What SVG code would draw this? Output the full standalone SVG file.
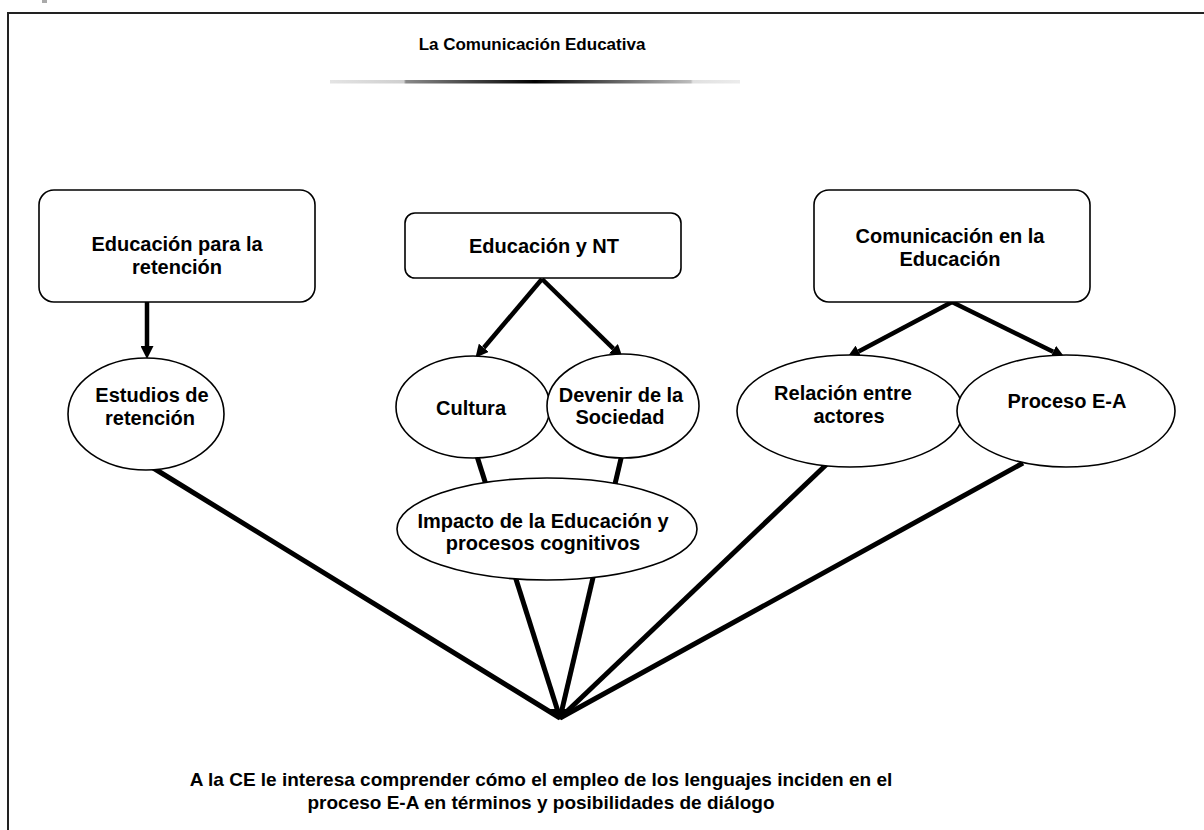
<svg xmlns="http://www.w3.org/2000/svg" width="1204" height="830" viewBox="0 0 1204 830">
<defs>
<style>
.t{font-family:"Liberation Sans",Arial,sans-serif;font-weight:bold;font-size:20px;fill:#000;text-anchor:middle}
.title{font-size:17px}
.foot{font-size:19px}
.box{fill:#fff;stroke:#000;stroke-width:1.6}
.ell{fill:#fff;stroke:#000;stroke-width:1.6}
.arr{fill:none;stroke:#000;stroke-width:4.5;marker-end:url(#ah)}
.ln{fill:none;stroke:#000;stroke-width:5}
</style>
<marker id="ah" viewBox="0 0 12 12" markerWidth="13" markerHeight="13" markerUnits="userSpaceOnUse" refX="0" refY="6" orient="auto">
<path d="M0,0 L12,6 L0,12 z" fill="#000"/>
</marker>
<linearGradient id="bar" x1="330" y1="0" x2="740" y2="0" gradientUnits="userSpaceOnUse">
<stop offset="0" stop-color="#e4e4e4"/>
<stop offset="0.18" stop-color="#cfcfcf"/>
<stop offset="0.185" stop-color="#8a8a8a"/>
<stop offset="0.5" stop-color="#000"/>
<stop offset="0.88" stop-color="#bdbdbd"/>
<stop offset="0.885" stop-color="#e0e0e0"/>
<stop offset="1" stop-color="#ececec"/>
</linearGradient>
</defs>
<rect width="1204" height="830" fill="#fff"/>
<rect x="42" y="0" width="5" height="3" fill="#aaa"/>
<path d="M8,830 V13 H1204" fill="none" stroke="#222" stroke-width="2"/>

<g id="title">
<text class="t title" x="532" y="50">La Comunicación Educativa</text>
<rect x="330" y="80" width="410" height="3.5" fill="url(#bar)"/>
</g>

<g id="connectors">
<path class="ln" d="M150,466 L560,718"/>
<path class="ln" d="M475,450 L560,718"/>
<path class="ln" d="M623,450 L560,718"/>
<path class="ln" d="M828,463 L560,718"/>
<path class="ln" d="M1023,463 L560,718"/>
<polygon points="549,709 571,709 560,720" fill="#000"/>
<path class="arr" d="M147,302 L147,346"/>
<path class="arr" d="M542,279 L483.8,347.8"/>
<path class="arr" d="M542,279 L613.4,348.6"/>
<path class="arr" d="M952,302 L858.6,351.4"/>
<path class="arr" d="M952,302 L1053.2,351.7"/>
</g>

<g id="n-edu-retencion">
<rect class="box" x="39" y="190" width="276" height="112" rx="15"/>
<text class="t" x="177" y="251">Educación para la</text>
<text class="t" x="177" y="274">retención</text>
</g>

<g id="n-edu-nt">
<rect class="box" x="405" y="213" width="276" height="65" rx="10"/>
<text class="t" x="544" y="253">Educación y NT</text>
</g>

<g id="n-com-edu">
<rect class="box" x="814" y="190" width="276" height="112" rx="15"/>
<text class="t" x="950" y="243">Comunicación en la</text>
<text class="t" x="950" y="266">Educación</text>
</g>

<g id="n-estudios">
<ellipse class="ell" cx="146" cy="414" rx="78" ry="56"/>
<text class="t" x="152" y="402">Estudios de</text>
<text class="t" x="150" y="425">retención</text>
</g>

<g id="n-cultura">
<ellipse class="ell" cx="473" cy="407" rx="77" ry="51"/>
<text class="t" x="471" y="415">Cultura</text>
</g>

<g id="n-devenir">
<ellipse class="ell" cx="623" cy="406" rx="76" ry="52"/>
<text class="t" x="621" y="402">Devenir de la</text>
<text class="t" x="620" y="424">Sociedad</text>
</g>

<g id="n-impacto">
<ellipse class="ell" cx="547" cy="529" rx="150" ry="51"/>
<text class="t" x="543" y="528">Impacto de la Educación y</text>
<text class="t" x="543" y="550">procesos cognitivos</text>
</g>

<g id="n-relacion">
<ellipse class="ell" cx="850" cy="411" rx="113" ry="56"/>
<text class="t" x="843" y="400">Relación entre</text>
<text class="t" x="849" y="423">actores</text>
</g>

<g id="n-proceso">
<ellipse class="ell" cx="1066" cy="411" rx="109" ry="56"/>
<text class="t" x="1067" y="408">Proceso E-A</text>
</g>

<g id="n-conclusion">
<text class="t foot" x="541" y="786">A la CE le interesa comprender cómo el empleo de los lenguajes inciden en el</text>
<text class="t foot" x="541" y="809">proceso E-A en términos y posibilidades de diálogo</text>
</g>
</svg>
